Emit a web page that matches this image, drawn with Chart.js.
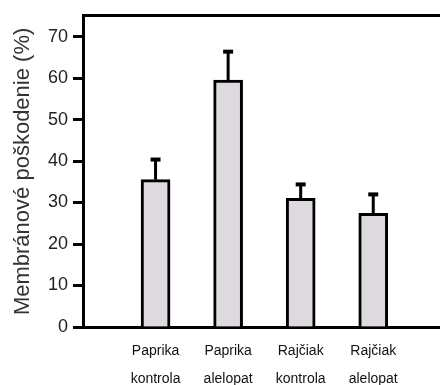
<!DOCTYPE html>
<html>
<head>
<meta charset="utf-8">
<script src="https://cdn.jsdelivr.net/npm/chart.js@4.4.0/dist/chart.umd.min.js"></script>
<style>
  body { margin: 0; background: #fff; }
  canvas { display: block; }
</style>
</head>
<body>
<canvas id="damageChart" width="440" height="385"></canvas>
<script>
// values
const categories = [["Paprika", "kontrola"], ["Paprika", "alelopat"], ["Rajčiak", "kontrola"], ["Rajčiak", "alelopat"]];
const positions = [1, 2, 3, 4];
const damage = [35.5, 59.5, 31.0, 27.4];
const errors = [5.1, 7.1, 3.6, 4.8];
const yTicks = [0, 10, 20, 30, 40, 50, 60, 70];

const errorBars = {
  id: "errorBars",
  afterDatasetsDraw(chart) {
    const ctx = chart.ctx;
    const xs = chart.scales.x, ys = chart.scales.y;
    ctx.save();
    ctx.strokeStyle = "#000";
    damage.forEach((v, i) => {
      const x = xs.getPixelForValue(positions[i]);
      const yBar = ys.getPixelForValue(v);
      const yTop = ys.getPixelForValue(v + errors[i]);
      ctx.lineWidth = 3;
      ctx.beginPath();
      ctx.moveTo(x, yBar);
      ctx.lineTo(x, yTop);
      ctx.stroke();
      ctx.lineWidth = 4;
      ctx.beginPath();
      ctx.moveTo(x - 5, yTop + 1);
      ctx.lineTo(x + 5, yTop + 1);
      ctx.stroke();
    });
    ctx.restore();
  }
};

new Chart(document.getElementById("damageChart"), {
  type: "bar",
  data: {
    datasets: [{
      data: positions.map((p, i) => ({ x: p, y: damage[i] })),
      backgroundColor: "#ddd9de",
      borderColor: "#000",
      borderWidth: 3,
      barThickness: 29,
    }],
  },
  options: {
    responsive: false,
    animation: false,
    layout: { padding: 0 },
    plugins: { legend: { display: false }, tooltip: { enabled: false } },
    scales: {
      x: {
        type: "linear",
        offset: false,
        min: 0,
        max: 4.92,
        afterFit: (s) => { s.height = 58; },
        afterBuildTicks: (s) => { s.ticks = positions.map((p) => ({ value: p })); },
        border: { color: "#000", width: 3 },
        grid: { display: false, offset: false },
        ticks: {
          autoSkip: false,
          maxRotation: 0,
          padding: 2,
          color: "#111",
          font: { family: "Arial, 'Liberation Sans'", size: 14, lineHeight: 2 },
          callback: (v) => categories[positions.indexOf(v)] || "",
        },
      },
      x2: {
        type: "linear",
        position: "top",
        offset: false,
        min: 0,
        max: 1,
        afterFit: (s) => { s.height = 15; },
        border: { color: "#000", width: 3 },
        grid: { display: false },
        ticks: { display: false },
      },
      y: {
        min: 0,
        max: 75,
        afterFit: (s) => { s.width = 83; },
        afterBuildTicks: (s) => { s.ticks = yTicks.map((v) => ({ value: v })); },
        border: { color: "#000", width: 3 },
        grid: {
          drawOnChartArea: false,
          color: "#000",
          tickLength: 10,
          tickWidth: 3,
        },
        ticks: {
          padding: 5,
          color: "#222",
          font: { family: "Arial, 'Liberation Sans'", size: 18 },
        },
        title: {
          display: true,
          text: "Membránové poškodenie (%)",
          color: "#333",
          font: { family: "Arial, 'Liberation Sans'", size: 22 },
          padding: { top: 10, bottom: 0 },
        },
      },
    },
  },
  plugins: [errorBars],
});
</script>
</body>
</html>
